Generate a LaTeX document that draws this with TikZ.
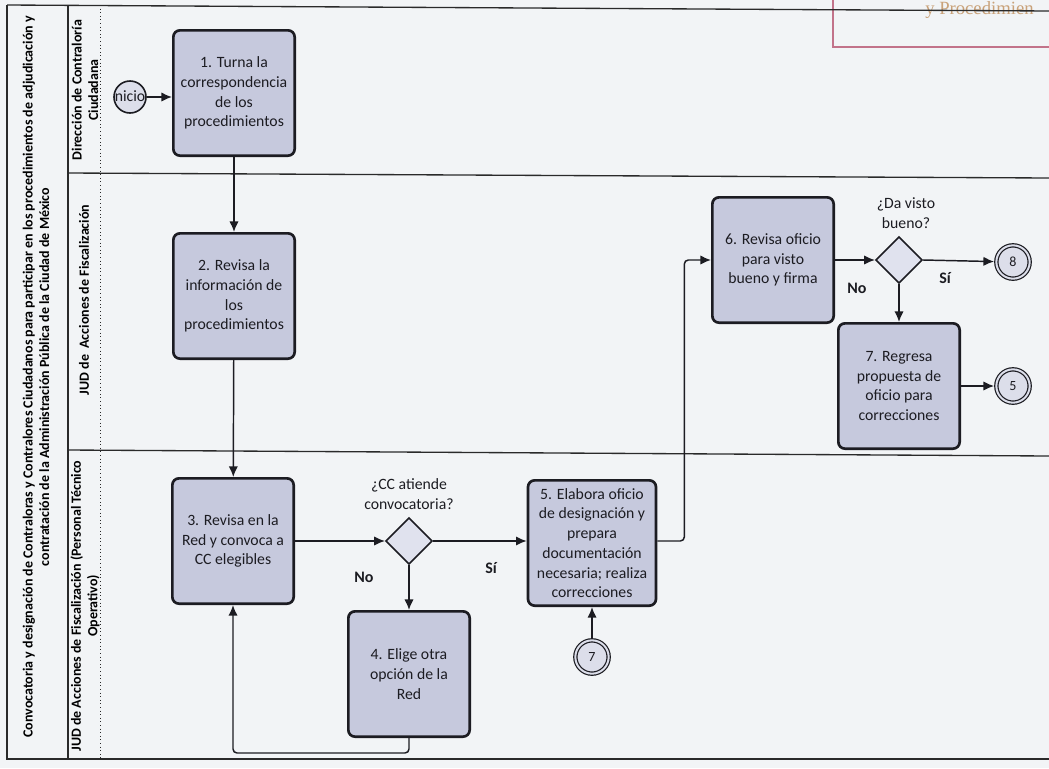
\documentclass[tikz,border=0pt]{standalone}
\usepackage{fontspec}
\setmainfont{Carlito}
\newfontfamily\headerserif{Liberation Serif}
\usetikzlibrary{arrows.meta,shapes.geometric}

\definecolor{paper}{HTML}{F2F4F6}
\definecolor{ink}{HTML}{1C1C22}
\definecolor{taskfill}{HTML}{C6C9DD}
\definecolor{gatefill}{HTML}{E0E2EE}
\definecolor{circfill}{HTML}{DCDEEA}
\definecolor{frameline}{HTML}{2A2A2A}
\definecolor{headerpink}{HTML}{C2738A}
\definecolor{headertan}{HTML}{C9A27A}

\begin{document}
\begin{tikzpicture}[x=0.75pt,y=-0.75pt,
  task/.style={draw=ink, line width=2pt, fill=taskfill, rounded corners=5pt,
    minimum width=91pt, minimum height=94pt, align=center, inner sep=2pt,
    text=ink, font=\fontsize{11.8}{14.8}\selectfont},
  gate/.style={diamond, draw=ink, line width=1.2pt, fill=gatefill,
    minimum width=35pt, minimum height=35pt, inner sep=0pt},
  startev/.style={circle, draw=ink, line width=1.2pt, fill=circfill,
    minimum size=24pt, inner sep=0pt},
  linkev/.style={circle, draw=ink, line width=0.9pt, double=circfill,
    double distance=1.5pt, fill=circfill, minimum size=25pt, inner sep=0pt,
    outer sep=1.7pt, font=\fontsize{10.5}{12}\selectfont, text=ink},
  flow/.style={draw=ink, line width=1.1pt, -{Latex[length=8pt,width=7pt]}},
  note/.style={align=center, text=ink, inner sep=0pt,
    font=\fontsize{11.8}{14.5}\selectfont},
  answer/.style={text=ink, inner sep=0pt, font=\bfseries\fontsize{12}{14}\selectfont},
  lanetext/.style={rotate=90, align=center, text=black, inner sep=0pt,
    font=\bfseries\fontsize{10.5}{12.5}\selectfont},
  lane/.style={draw=frameline, line width=1pt}
]
\useasboundingbox (0,0) rectangle (1049,768);
\clip (0,0) rectangle (1049,768);
\fill[paper] (0,0) rectangle (1049,768);

% header frame in the top right corner
\draw[headerpink, line width=1.2pt] (833,-5) -- (833,47) -- (1060,47);
\node[anchor=base west, text=headertan, inner sep=0pt,
  font=\headerserif\fontsize{14}{14}\selectfont] (hdr) at (925,14) {y Procedimien};

% pool outline and lanes
\draw[lane] (7,5) -- (1049,11);
\draw[lane] (7,5) -- (7,759) -- (1049,759);
\draw[lane] (68,5) -- (68,759);
\draw[frameline, line width=0.7pt, dotted] (100,5) -- (100,759);
\draw[lane] (68,173) -- (1049,178);
\draw[lane] (68,450) -- (1049,456);

\node[lanetext] (pool) at (36,377) {Convocatoria y designación de Contraloras y Contralores Ciudadanos para participar en los procedimientos de adjudicación y\\contratación de la Administración Pública de la Ciudad de México};
\node[lanetext] (lane1) at (85,90) {Dirección de Contraloría\\Ciudadana};
\node[lanetext] (lane2) at (84,300) {JUD de\ \ Acciones de Fiscalización};
\node[lanetext] (lane3) at (85,606) {JUD de Acciones de Fiscalización (Personal Técnico\\Operativo)};

% activities
\node[task] (b1) at (234,93) {1. Turna la\\correspondencia\\de los\\procedimientos};
\node[task] (b2) at (234,296) {2. Revisa la\\información de\\los\\procedimientos};
\node[task] (b3) at (233,541) {3. Revisa en la\\Red y convoca a\\CC elegibles};
\node[task] (b4) at (409,674) {4. Elige otra\\opción de la\\Red};
\node[task, minimum width=96pt] (b5) at (592,543) {5. Elabora oficio\\de designación y\\prepara\\documentación\\necesaria; realiza\\correcciones};
\node[task] (b6) at (773,260) {6. Revisa oficio\\para visto\\bueno y firma};
\node[task] (b7) at (899,386) {7. Regresa\\propuesta de\\oficio para\\correcciones};

% gateways
\node[gate] (d1) at (409,541) {};
\node[gate] (d2) at (899,260) {};
\node[note] (q1) at (409,494) {¿CC atiende\\convocatoria?};
\node[note] (q2) at (906,213) {¿Da visto\\bueno?};
\node[answer] (no1) at (364,577) {No};
\node[answer] (si1) at (491,568) {Sí};
\node[answer] (no2) at (857,288) {No};
\node[answer] (si2) at (945,278) {Sí};

% events
\node[startev] (ini) at (130,97) {};
\node[inner sep=0pt, text=ink, font=\fontsize{11.8}{14}\selectfont] (initxt) at (130,96) {nicio};
\node[linkev] (c7) at (592,657) {7};
\node[linkev] (c8) at (1013,262) {8};
\node[linkev] (c5) at (1013,386) {5};

% sequence flows
\draw[flow] (ini) -- (ini -| b1.west);
\draw[flow] (b1) -- (b2);
\draw[flow] (b2) -- (b3);
\draw[flow] (b3.east) -- (d1.west);
\draw[flow] (d1.east) -- (d1.east -| b5.west);
\draw[flow] (d1.south) -- (b4.north);
\draw[flow, rounded corners=3pt] (b4.south) -- ++(0,15) -| (b3.south);
\draw[flow] (c7) -- (b5.south);
\draw[flow, rounded corners=3pt] (b5.east |- d1) -- ++(27,0) |- (b6.west);
\draw[flow] (b6.east) -- (d2.west);
\draw[flow] (d2.east) -- (c8);
\draw[flow] (d2.south) -- (b7.north);
\draw[flow] (b7.east) -- (c5);
\end{tikzpicture}
\end{document}
